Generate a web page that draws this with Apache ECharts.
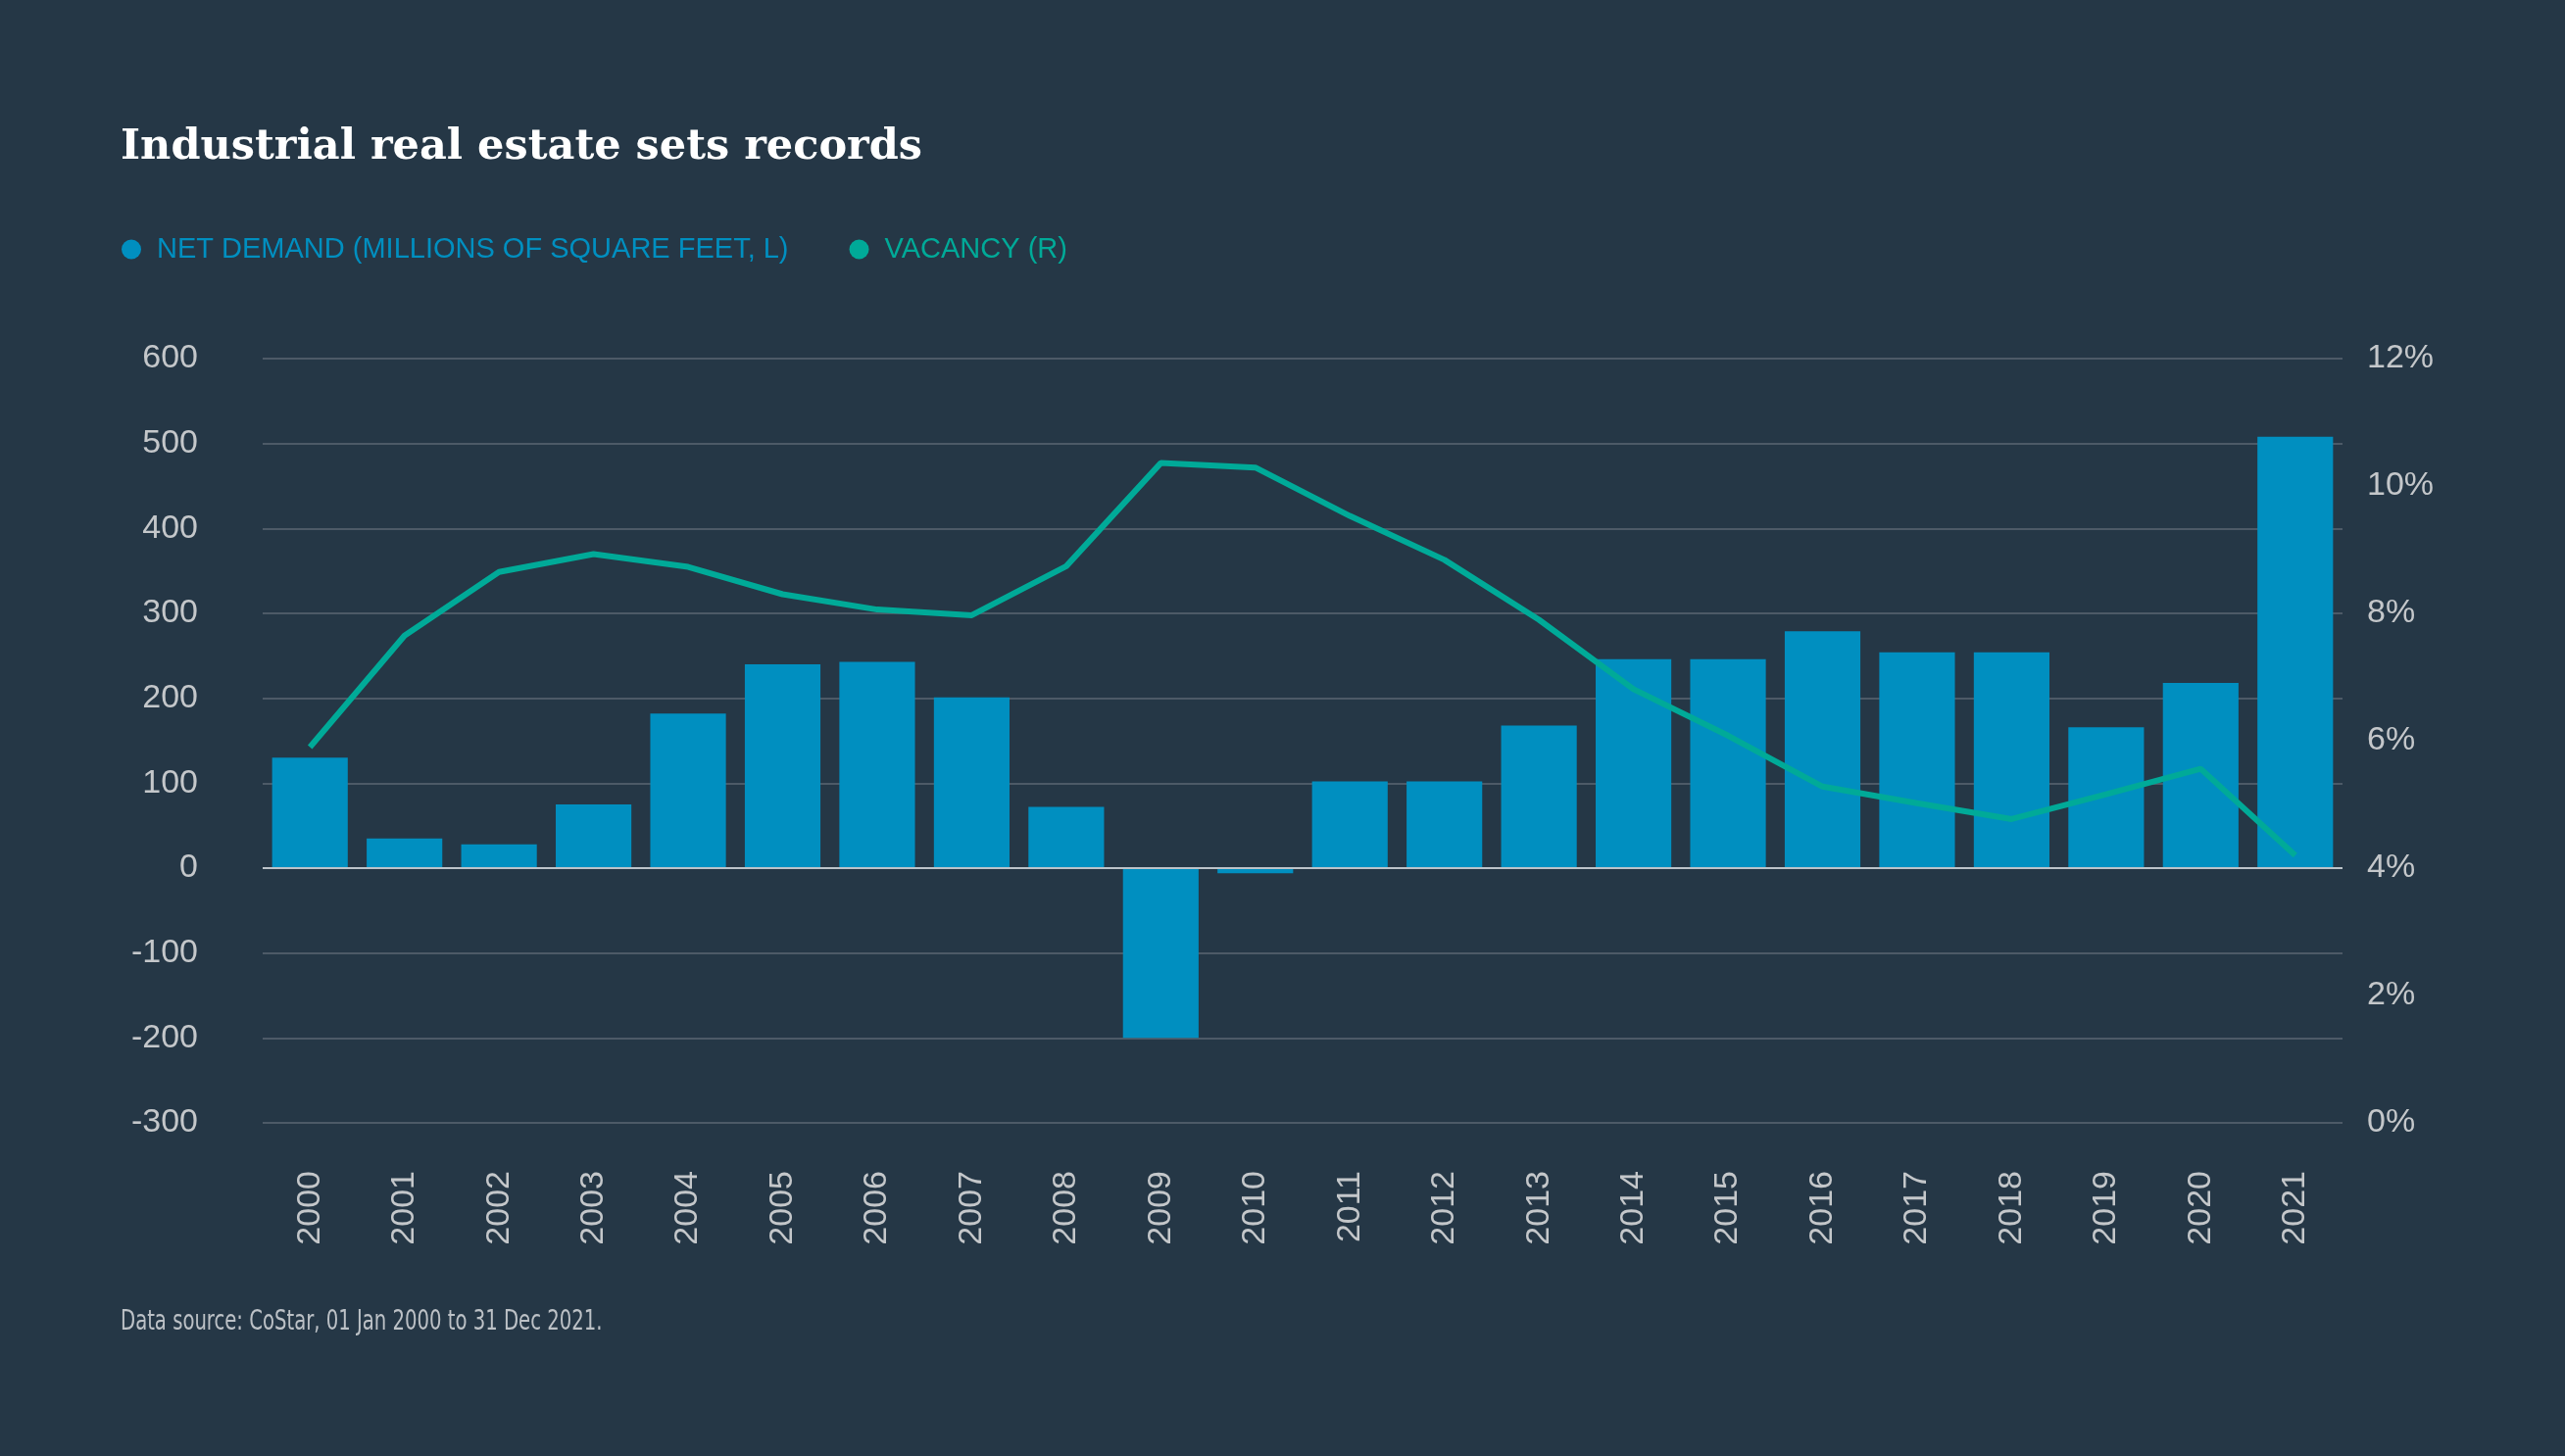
<!DOCTYPE html>
<html>
<head>
<meta charset="utf-8">
<title>Industrial real estate sets records</title>
<script src="https://cdn.jsdelivr.net/npm/echarts@6/dist/echarts.min.js"></script>
<style>
  html, body { margin: 0; padding: 0; background: #253746; }
  #chart { width: 2617px; height: 1486px; }
</style>
</head>
<body>
<div id="chart"></div>
<script>
const years = ['2000', '2001', '2002', '2003', '2004', '2005', '2006', '2007', '2008', '2009', '2010',
  '2011', '2012', '2013', '2014', '2015', '2016', '2017', '2018', '2019', '2020', '2021']

// net demand, millions of sq ft (left axis)
const netDemand = [130, 35, 28, 75, 182, 240, 243, 201, 72, -200, -6,
  102, 102, 168, 246, 246, 279, 254, 254, 166, 218, 508]

// vacancy rate, % (right axis)
const vacancy = [5.9, 7.65, 8.65, 8.93, 8.73, 8.3, 8.06, 7.97, 8.74, 10.36, 10.29,
  9.53, 8.84, 7.9, 6.81, 6.08, 5.28, 5.02, 4.77, 5.16, 5.56, 4.2]

const leftTicks = { min: -300, max: 600, interval: 100 }
const rightTicks = { min: 0, max: 12, interval: 2 }

const DEMAND_NAME = 'NET DEMAND (MILLIONS OF SQUARE FEET, L)'
const VACANCY_NAME = 'VACANCY (R)'

const BG = '#253746'
const BLUE = '#008fc0'
const TEAL = '#00aa98'
const GRID = '#4d5a67'
const LABEL = '#c4c7ca'

const chart = echarts.init(document.getElementById('chart'))

const axisFont = { color: LABEL, fontSize: 34, fontFamily: 'Liberation Sans, Arial, sans-serif' }

chart.setOption({
  backgroundColor: BG,
  animation: false,
  title: {
    text: 'Industrial real estate sets records',
    left: 123,
    top: 129,
    padding: 0,
    textStyle: { color: '#fff', fontFamily: 'DejaVu Serif, serif', fontWeight: 'bold', fontSize: 43 },
  },
  legend: {
    left: 124,
    top: 240,
    padding: 0,
    icon: 'circle',
    itemWidth: 20,
    itemHeight: 20,
    itemGap: 62,
    textStyle: { fontSize: 29, fontFamily: 'Liberation Sans, Arial, sans-serif', padding: [0, 0, 0, 11] },
    data: [
      { name: DEMAND_NAME, textStyle: { color: BLUE } },
      { name: VACANCY_NAME, textStyle: { color: TEAL } },
    ],
  },
  grid: { left: 268, right: 227, top: 366, bottom: 340 },
  xAxis: {
    type: 'category',
    data: years,
    axisLine: { show: false, onZero: false },
    axisTick: { show: false },
    axisLabel: { ...axisFont, rotate: 90, margin: 49 },
  },
  yAxis: [
    {
      type: 'value',
      ...leftTicks,
      axisLine: { show: false },
      axisTick: { show: false },
      axisLabel: { ...axisFont, margin: 66 },
      splitLine: { lineStyle: { color: GRID, width: 2 } },
    },
    {
      type: 'value',
      ...rightTicks,
      position: 'right',
      axisLine: { show: false },
      axisTick: { show: false },
      axisLabel: { ...axisFont, margin: 25, formatter: '{value}%' },
      splitLine: { show: false },
    },
  ],
  series: [
    {
      name: DEMAND_NAME,
      type: 'bar',
      data: netDemand,
      barCategoryGap: '20%',
      itemStyle: { color: BLUE },
      markLine: {
        silent: true,
        symbol: 'none',
        label: { show: false },
        lineStyle: { color: '#bcc3c9', width: 2, type: 'solid' },
        data: [{ yAxis: 0 }],
      },
    },
    {
      name: VACANCY_NAME,
      type: 'line',
      yAxisIndex: 1,
      data: vacancy,
      symbol: 'none',
      z: 5,
      itemStyle: { color: TEAL },
      lineStyle: { color: TEAL, width: 6 },
    },
  ],
  graphic: [
    {
      type: 'text',
      x: 123,
      y: 1336,
      scaleX: 0.78,
      style: {
        text: 'Data source: CoStar, 01 Jan 2000 to 31 Dec 2021.',
        fill: '#bcc1c6',
        fontSize: 28,
        fontFamily: 'Liberation Sans Narrow, DejaVu Sans Condensed, sans-serif',
      },
    },
  ],
})
</script>
</body>
</html>
